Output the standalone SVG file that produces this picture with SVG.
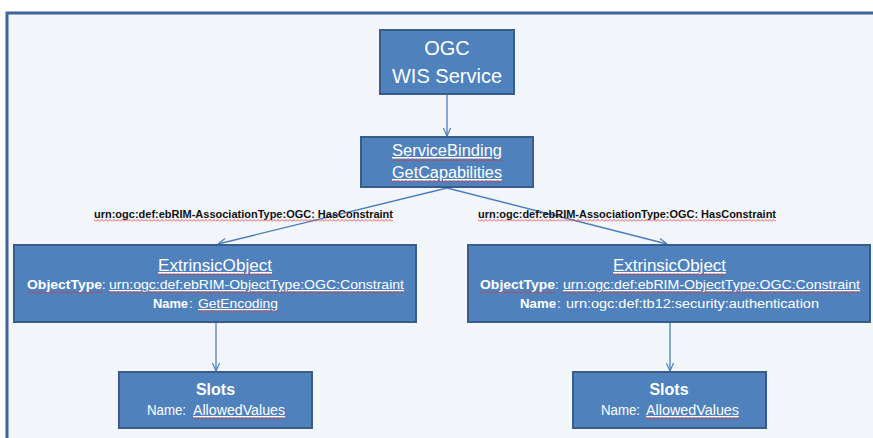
<svg xmlns="http://www.w3.org/2000/svg" width="873" height="438" viewBox="0 0 873 438">
<defs>
<style>
.box{fill:#4f81bd;stroke:#385d8a;stroke-width:2}
.t{font-family:"Liberation Sans",Arial,sans-serif;fill:#ffffff}
.b{font-weight:bold}
.u{text-decoration:underline}
.lbl{font-family:"Liberation Sans",Arial,sans-serif;font-weight:bold;font-size:11px;fill:#111111}
.con{stroke:#4a7ebb;stroke-width:1.3;fill:none}
.wv{fill:url(#wave)}
</style>
<pattern id="wave" width="4" height="3" patternUnits="userSpaceOnUse">
<path d="M0,2.5 L2,0.5 L4,2.5" fill="none" stroke="#e03030" stroke-width="0.8"/>
</pattern>
<marker id="arr" viewBox="0 0 10 10" refX="10" refY="5" markerWidth="9" markerHeight="9" markerUnits="userSpaceOnUse" orient="auto">
<path d="M1,1 L10,5 L1,9" fill="none" stroke="#4a7ebb" stroke-width="1.3"/>
</marker>
</defs>
<rect x="0" y="0" width="873" height="438" fill="#ffffff"/>
<rect id="frame" x="7" y="13" width="880" height="440" fill="#f2f5f9" stroke="#3f6498" stroke-width="3"/>

<g id="connectors">
<line class="con" x1="447" y1="95" x2="447" y2="136" marker-end="url(#arr)"/>
<line class="con" x1="447" y1="188" x2="218" y2="244" marker-end="url(#arr)"/>
<line class="con" x1="447" y1="188" x2="667" y2="244" marker-end="url(#arr)"/>
<line class="con" x1="216" y1="323" x2="216" y2="371" marker-end="url(#arr)"/>
<line class="con" x1="670" y1="323" x2="670" y2="371" marker-end="url(#arr)"/>
<text class="lbl" x="94" y="218" textLength="299" lengthAdjust="spacingAndGlyphs">urn:ogc:def:ebRIM-AssociationType:OGC: HasConstraint</text>
<rect class="wv" x="94" y="219" width="299" height="3"/>
<text class="lbl" x="478" y="218" textLength="298" lengthAdjust="spacingAndGlyphs">urn:ogc:def:ebRIM-AssociationType:OGC: HasConstraint</text>
<rect class="wv" x="478" y="219" width="298" height="3"/>
</g>

<g id="ogc">
<rect class="box" x="380" y="30" width="134" height="64"/>
<text class="t" x="447" y="55" font-size="20" text-anchor="middle">OGC</text>
<text class="t" x="447" y="83" font-size="20" text-anchor="middle">WIS Service</text>
</g>

<g id="servicebinding">
<rect class="box" x="361" y="137" width="172" height="50"/>
<text class="t u" x="392" y="156" font-size="16" textLength="110" lengthAdjust="spacingAndGlyphs">ServiceBinding</text>
<rect class="wv" x="392" y="158" width="110" height="3"/>
<text class="t u" x="392" y="178" font-size="16" textLength="110" lengthAdjust="spacingAndGlyphs">GetCapabilities</text>
<rect class="wv" x="392" y="180" width="110" height="3"/>
</g>

<g id="extrinsic-left">
<rect class="box" x="14" y="245" width="402" height="77"/>
<text class="t u" x="158" y="271" font-size="17" textLength="114" lengthAdjust="spacingAndGlyphs">ExtrinsicObject</text>
<rect class="wv" x="158" y="273" width="114" height="3"/>
<text class="t b" x="27" y="289" font-size="13" textLength="75" lengthAdjust="spacingAndGlyphs">ObjectType</text>
<text class="t" x="102" y="289" font-size="13">:</text>
<text class="t u" x="109" y="289" font-size="13" textLength="295" lengthAdjust="spacingAndGlyphs">urn:ogc:def:ebRIM-ObjectType:OGC:Constraint</text>
<rect class="wv" x="27" y="291" width="75" height="3"/>
<rect class="wv" x="109" y="291" width="295" height="3"/>
<text class="t b" x="153" y="308" font-size="13" textLength="35" lengthAdjust="spacingAndGlyphs">Name</text>
<text class="t" x="189" y="308" font-size="13">:</text>
<text class="t u" x="198" y="308" font-size="13" textLength="80" lengthAdjust="spacingAndGlyphs">GetEncoding</text>
<rect class="wv" x="198" y="310" width="80" height="3"/>
</g>

<g id="extrinsic-right">
<rect class="box" x="468" y="245" width="402" height="77"/>
<text class="t u" x="613" y="271" font-size="17" textLength="113" lengthAdjust="spacingAndGlyphs">ExtrinsicObject</text>
<rect class="wv" x="613" y="273" width="113" height="3"/>
<text class="t b" x="480" y="289" font-size="13" textLength="75" lengthAdjust="spacingAndGlyphs">ObjectType</text>
<text class="t" x="555" y="289" font-size="13">:</text>
<text class="t u" x="563" y="289" font-size="13" textLength="297" lengthAdjust="spacingAndGlyphs">urn:ogc:def:ebRIM-ObjectType:OGC:Constraint</text>
<rect class="wv" x="480" y="291" width="75" height="3"/>
<rect class="wv" x="563" y="291" width="297" height="3"/>
<text class="t b" x="520" y="308" font-size="13" textLength="36" lengthAdjust="spacingAndGlyphs">Name</text>
<text class="t" x="557" y="308" font-size="13">:</text>
<text class="t" x="566" y="308" font-size="13" textLength="253" lengthAdjust="spacingAndGlyphs">urn:ogc:def:tb12:security:authentication</text>
</g>

<g id="slots-left">
<rect class="box" x="119" y="372" width="193" height="56"/>
<text class="t b" x="215.5" y="395" font-size="16" text-anchor="middle">Slots</text>
<text class="t" x="147" y="415" font-size="14" textLength="39" lengthAdjust="spacingAndGlyphs">Name:</text>
<text class="t u" x="193" y="415" font-size="14" textLength="92" lengthAdjust="spacingAndGlyphs">AllowedValues</text>
<rect class="wv" x="193" y="417" width="92" height="3"/>
</g>

<g id="slots-right">
<rect class="box" x="573" y="372" width="193" height="56"/>
<text class="t b" x="669" y="395" font-size="16" text-anchor="middle">Slots</text>
<text class="t" x="601" y="415" font-size="14" textLength="39" lengthAdjust="spacingAndGlyphs">Name:</text>
<text class="t u" x="646" y="415" font-size="14" textLength="93" lengthAdjust="spacingAndGlyphs">AllowedValues</text>
<rect class="wv" x="646" y="417" width="93" height="3"/>
</g>
</svg>
